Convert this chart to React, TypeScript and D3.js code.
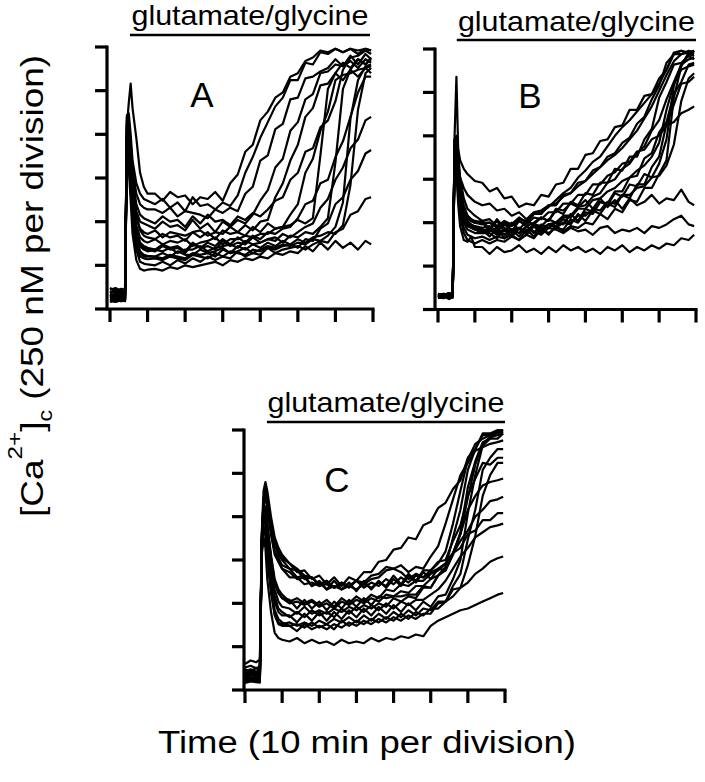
import React from 'react';
import * as d3 from 'd3';

// sample times (min) shared by every trace
const times = [0, 1.5, 3, 4, 4.5, 5, 5.5, 6, 7, 8, 9, 10, 12, 14, 16, 18, 20, 22, 24, 26, 28, 30, 32, 34, 36, 38, 40, 42, 44, 46, 48, 50, 52, 54, 56, 58, 60, 62, 64, 66, 68, 69.5];

const xTicks = [0, 10, 20, 30, 40, 50, 60, 70];
const yTicks = [0, 250, 500, 750, 1000, 1250, 1500];

// glutamate/glycine application (min)
const stimA = [5.3, 69.2];
const stimB = [5.1, 70];
const stimC = [5.9, 70];

// [Ca2+]c traces in nM, one row per cell
const tracesA: number[][] = [
  [70, 85, 65, 80, 1050, 1180, 1290, 1150, 980, 780, 700, 660, 660, 620, 670, 640, 650, 600, 640, 630, 670, 620, 720, 770, 900, 940, 1080, 1130, 1210, 1240, 1330, 1350, 1420, 1440, 1480, 1470, 1490, 1470, 1490, 1480, 1490, 1480],
  [95, 110, 90, 100, 1080, 1120, 1000, 850, 720, 660, 630, 620, 600, 630, 580, 610, 560, 640, 590, 600, 570, 610, 590, 650, 780, 870, 980, 1070, 1160, 1210, 1310, 1310, 1410, 1400, 1470, 1460, 1490, 1470, 1490, 1460, 1490, 1480],
  [50, 60, 45, 55, 1100, 1060, 950, 800, 660, 600, 580, 570, 570, 550, 580, 530, 560, 550, 540, 520, 570, 550, 580, 560, 660, 700, 850, 880, 1030, 1060, 1200, 1210, 1320, 1330, 1360, 1380, 1430, 1390, 1450, 1400, 1460, 1430],
  [80, 70, 90, 75, 1060, 1000, 880, 730, 560, 500, 490, 480, 460, 500, 470, 480, 450, 510, 460, 490, 440, 500, 470, 510, 490, 540, 620, 680, 810, 860, 1020, 1070, 1200, 1230, 1350, 1360, 1400, 1390, 1420, 1380, 1430, 1410],
  [110, 120, 100, 115, 1000, 950, 820, 680, 520, 460, 440, 430, 450, 410, 440, 430, 420, 440, 450, 420, 440, 430, 470, 440, 480, 450, 500, 510, 640, 720, 850, 940, 1100, 1150, 1280, 1290, 1350, 1310, 1370, 1330, 1380, 1350],
  [60, 50, 65, 55, 1110, 1040, 920, 760, 600, 540, 520, 510, 490, 530, 500, 510, 470, 530, 490, 540, 500, 510, 480, 530, 510, 550, 530, 570, 620, 640, 740, 780, 900, 920, 1040, 1080, 1190, 1370, 1440, 1450, 1480, 1460],
  [40, 55, 45, 50, 1020, 940, 800, 640, 480, 410, 390, 380, 400, 370, 390, 380, 400, 360, 380, 390, 410, 370, 400, 400, 420, 410, 430, 430, 460, 470, 540, 600, 780, 860, 1020, 1130, 1310, 1340, 1350, 1370, 1380, 1390],
  [100, 90, 105, 95, 1040, 980, 850, 700, 540, 450, 420, 410, 400, 430, 410, 420, 390, 440, 410, 440, 400, 450, 430, 440, 420, 470, 440, 490, 460, 470, 480, 510, 490, 520, 880, 1260, 1350, 1410, 1380, 1430, 1400, 1430],
  [65, 80, 70, 60, 980, 900, 760, 600, 440, 360, 340, 330, 340, 330, 350, 320, 340, 340, 360, 330, 350, 360, 370, 350, 390, 370, 380, 400, 410, 380, 420, 410, 440, 430, 470, 520, 840, 1260, 1370, 1430, 1400, 1440],
  [85, 75, 95, 80, 1000, 920, 780, 620, 460, 380, 360, 350, 340, 370, 350, 360, 330, 380, 350, 380, 360, 400, 370, 410, 380, 420, 400, 440, 430, 460, 470, 520, 600, 620, 720, 740, 870, 960, 1100, 1240, 1330, 1330],
  [55, 45, 60, 50, 960, 880, 720, 560, 400, 320, 300, 300, 300, 290, 310, 300, 290, 320, 310, 320, 300, 340, 320, 330, 350, 320, 340, 360, 350, 370, 360, 380, 370, 400, 390, 420, 470, 610, 1090, 1310, 1390, 1400],
  [120, 105, 115, 110, 990, 900, 770, 610, 450, 370, 350, 340, 330, 360, 340, 350, 320, 370, 350, 360, 340, 390, 360, 380, 370, 410, 380, 400, 390, 430, 410, 440, 470, 490, 580, 630, 740, 810, 920, 970, 1080, 1100],
  [70, 60, 75, 65, 950, 860, 700, 530, 380, 300, 290, 285, 290, 280, 300, 290, 280, 310, 300, 290, 320, 300, 330, 320, 310, 340, 330, 350, 340, 360, 370, 350, 400, 390, 460, 490, 600, 640, 740, 790, 890, 910],
  [45, 40, 50, 45, 940, 840, 680, 500, 340, 270, 260, 255, 250, 270, 250, 280, 260, 290, 270, 300, 280, 300, 290, 330, 300, 320, 310, 350, 320, 340, 350, 360, 340, 370, 390, 380, 440, 460, 540, 560, 630, 640],
  [90, 100, 80, 90, 920, 800, 620, 430, 280, 230, 220, 225, 230, 220, 240, 230, 250, 240, 250, 260, 270, 250, 280, 270, 290, 280, 300, 290, 320, 310, 330, 320, 360, 330, 380, 340, 390, 350, 380, 340, 390, 370],
  [75, 85, 70, 80, 970, 890, 740, 580, 420, 330, 310, 305, 300, 320, 300, 330, 310, 310, 340, 320, 330, 350, 320, 360, 340, 370, 350, 380, 360, 390, 370, 400, 380, 410, 420, 440, 430, 480, 710, 1140, 1350, 1380],
];

const tracesB: number[][] = [
  [75, 85, 70, 80, 960, 920, 780, 660, 580, 540, 510, 500, 510, 460, 520, 470, 450, 510, 480, 500, 530, 510, 580, 570, 610, 590, 630, 580, 640, 590, 630, 580, 640, 600, 620, 660, 610, 640, 630, 690, 620, 600],
  [85, 90, 80, 85, 900, 880, 740, 620, 540, 500, 480, 470, 460, 450, 470, 430, 460, 440, 480, 450, 430, 470, 460, 440, 470, 450, 460, 430, 470, 480, 440, 460, 450, 470, 440, 480, 470, 490, 520, 540, 490, 480],
  [70, 80, 65, 75, 880, 780, 600, 480, 400, 390, 420, 360, 360, 320, 360, 330, 340, 370, 330, 350, 320, 360, 330, 370, 340, 360, 330, 350, 320, 360, 340, 370, 330, 360, 340, 370, 350, 380, 370, 410, 400, 430],
  [80, 75, 85, 70, 1000, 1340, 900, 760, 640, 580, 560, 540, 510, 520, 480, 500, 490, 520, 510, 550, 560, 590, 630, 670, 700, 760, 800, 850, 880, 940, 1000, 1050, 1090, 1140, 1190, 1240, 1300, 1380, 1480, 1490, 1470, 1490],
  [90, 80, 95, 85, 980, 1000, 920, 860, 810, 780, 760, 740, 730, 680, 700, 640, 650, 590, 610, 600, 660, 650, 720, 730, 810, 810, 890, 900, 970, 980, 1050, 1060, 1150, 1150, 1230, 1240, 1330, 1380, 1470, 1470, 1490, 1480],
  [65, 75, 60, 70, 960, 940, 840, 760, 700, 660, 640, 620, 600, 610, 570, 580, 540, 560, 520, 560, 570, 600, 610, 650, 670, 710, 740, 780, 820, 860, 890, 930, 980, 1030, 1100, 1170, 1260, 1350, 1430, 1470, 1480, 1470],
  [80, 90, 75, 85, 940, 900, 760, 640, 560, 520, 510, 500, 500, 460, 510, 450, 500, 460, 510, 490, 530, 510, 570, 550, 620, 600, 670, 660, 730, 730, 810, 800, 880, 880, 980, 1040, 1220, 1310, 1410, 1420, 1460, 1440],
  [70, 65, 80, 75, 920, 860, 720, 600, 520, 490, 480, 470, 450, 470, 440, 460, 420, 470, 440, 480, 470, 490, 500, 530, 530, 580, 580, 630, 640, 680, 700, 740, 760, 800, 830, 880, 960, 1150, 1300, 1380, 1400, 1410],
  [85, 75, 90, 80, 930, 880, 740, 620, 540, 500, 470, 460, 460, 420, 470, 410, 460, 420, 480, 440, 490, 470, 500, 490, 550, 510, 580, 560, 620, 600, 670, 650, 720, 710, 780, 760, 840, 980, 1290, 1410, 1470, 1460],
  [75, 80, 70, 78, 950, 920, 800, 680, 580, 540, 520, 510, 500, 500, 470, 490, 480, 510, 490, 530, 520, 560, 560, 610, 610, 660, 660, 720, 720, 770, 790, 840, 850, 910, 920, 980, 1000, 1060, 1080, 1130, 1150, 1170],
  [90, 85, 95, 88, 900, 860, 720, 600, 500, 460, 450, 440, 440, 440, 410, 460, 420, 470, 430, 480, 440, 490, 470, 500, 490, 550, 510, 570, 550, 610, 590, 660, 640, 720, 720, 820, 880, 1070, 1180, 1300, 1310, 1340],
  [78, 70, 82, 76, 970, 930, 790, 660, 570, 510, 490, 480, 470, 480, 450, 490, 460, 470, 450, 490, 480, 520, 500, 540, 540, 590, 600, 650, 670, 730, 750, 810, 840, 900, 940, 1030, 1090, 1210, 1310, 1410, 1440, 1450],
  [68, 78, 72, 70, 900, 840, 700, 560, 470, 430, 420, 410, 420, 400, 420, 410, 430, 400, 460, 420, 470, 430, 480, 450, 480, 470, 500, 490, 550, 520, 580, 560, 630, 620, 700, 700, 780, 860, 1220, 1400, 1480, 1490],
  [82, 88, 78, 84, 980, 950, 820, 700, 600, 540, 520, 500, 490, 500, 480, 510, 490, 530, 500, 550, 550, 600, 600, 660, 670, 730, 740, 800, 820, 880, 900, 960, 990, 1070, 1110, 1210, 1290, 1420, 1470, 1490, 1480, 1490],
  [72, 82, 76, 74, 880, 800, 660, 540, 440, 400, 390, 380, 400, 380, 400, 390, 420, 400, 430, 410, 460, 440, 470, 460, 520, 500, 560, 550, 620, 610, 680, 680, 760, 770, 870, 900, 1020, 1080, 1240, 1310, 1410, 1420],
  [88, 80, 92, 86, 920, 870, 730, 610, 520, 480, 470, 460, 440, 460, 430, 460, 440, 470, 440, 480, 450, 490, 480, 520, 500, 540, 540, 580, 570, 620, 610, 660, 660, 700, 710, 760, 770, 830, 950, 1200, 1330, 1360],
];

const tracesC: number[][] = [
  [150, 170, 160, 175, 880, 1100, 1180, 1100, 950, 850, 800, 760, 730, 680, 690, 640, 660, 610, 650, 600, 650, 630, 680, 680, 740, 750, 810, 820, 880, 870, 950, 970, 1050, 1080, 1160, 1210, 1340, 1390, 1470, 1470, 1490, 1500],
  [80, 95, 85, 90, 900, 1150, 1200, 1150, 1000, 880, 820, 780, 730, 700, 660, 650, 610, 630, 590, 620, 600, 630, 590, 620, 600, 640, 610, 650, 620, 660, 650, 690, 730, 800, 960, 1150, 1330, 1420, 1450, 1470, 1480, 1490],
  [60, 70, 55, 65, 860, 1080, 1150, 1080, 920, 800, 760, 720, 700, 650, 660, 600, 630, 580, 630, 580, 620, 570, 630, 580, 630, 590, 640, 600, 660, 620, 680, 640, 700, 690, 780, 910, 1170, 1320, 1430, 1450, 1450, 1480],
  [110, 120, 105, 115, 870, 1100, 1160, 1120, 960, 840, 780, 750, 700, 690, 640, 650, 600, 630, 590, 620, 590, 630, 620, 660, 670, 710, 700, 720, 680, 710, 700, 770, 830, 960, 1100, 1240, 1310, 1380, 1400, 1420, 1430, 1440],
  [45, 55, 50, 48, 850, 1060, 1120, 1050, 900, 780, 740, 700, 680, 640, 650, 600, 620, 580, 600, 580, 600, 580, 610, 590, 620, 600, 660, 610, 670, 630, 690, 690, 740, 750, 860, 950, 1120, 1220, 1310, 1300, 1340, 1340],
  [95, 85, 100, 90, 840, 1020, 1060, 960, 780, 640, 580, 550, 510, 530, 500, 520, 490, 520, 480, 530, 500, 540, 510, 550, 530, 580, 570, 610, 600, 630, 630, 670, 690, 730, 790, 860, 920, 1000, 1040, 1090, 1100, 1115],
  [70, 60, 75, 68, 830, 1000, 1040, 940, 760, 620, 560, 530, 520, 470, 520, 470, 510, 460, 510, 470, 520, 480, 530, 490, 540, 530, 540, 540, 550, 550, 600, 590, 660, 690, 790, 820, 900, 920, 980, 980, 1020, 1020],
  [130, 140, 125, 135, 820, 980, 1000, 880, 680, 540, 470, 450, 420, 450, 420, 460, 430, 450, 420, 470, 440, 480, 450, 490, 460, 500, 470, 510, 490, 520, 520, 550, 580, 630, 700, 770, 820, 880, 910, 940, 950, 960],
  [55, 65, 60, 58, 810, 960, 980, 860, 660, 510, 450, 430, 430, 390, 440, 400, 450, 400, 450, 410, 460, 420, 470, 430, 480, 440, 490, 450, 500, 460, 510, 480, 540, 550, 640, 750, 1020, 1240, 1410, 1450, 1490, 1490],
  [100, 110, 95, 105, 800, 940, 940, 800, 600, 460, 410, 390, 370, 380, 360, 390, 360, 380, 350, 400, 370, 400, 380, 410, 390, 420, 400, 440, 410, 450, 430, 470, 470, 510, 540, 590, 620, 670, 700, 740, 760, 770],
  [75, 85, 80, 78, 790, 920, 900, 760, 560, 430, 380, 370, 370, 340, 380, 350, 370, 350, 380, 360, 390, 370, 400, 380, 410, 390, 420, 400, 430, 410, 440, 440, 500, 510, 600, 670, 870, 1040, 1270, 1340, 1390, 1390],
  [40, 50, 45, 42, 780, 880, 820, 640, 450, 330, 300, 290, 280, 300, 270, 290, 270, 280, 260, 290, 270, 280, 270, 300, 280, 300, 290, 310, 300, 320, 310, 370, 400, 420, 440, 460, 470, 490, 510, 530, 550, 560],
  [120, 110, 125, 115, 830, 990, 1020, 900, 720, 580, 510, 480, 470, 440, 480, 440, 460, 440, 470, 450, 480, 460, 490, 470, 500, 480, 530, 510, 540, 530, 590, 590, 660, 710, 880, 1040, 1270, 1390, 1480, 1480, 1500, 1500],
  [65, 75, 70, 72, 860, 1090, 1140, 1060, 900, 800, 740, 700, 650, 650, 610, 620, 600, 610, 590, 610, 600, 630, 610, 640, 650, 690, 700, 680, 640, 670, 650, 680, 700, 730, 790, 900, 1110, 1300, 1420, 1460, 1470, 1480],
  [90, 100, 85, 95, 800, 930, 920, 780, 580, 440, 390, 380, 390, 370, 390, 370, 400, 380, 410, 390, 420, 390, 430, 400, 440, 410, 450, 420, 460, 430, 470, 460, 510, 510, 580, 590, 720, 890, 1120, 1240, 1310, 1310],
  [50, 60, 55, 52, 840, 1010, 1050, 950, 760, 620, 560, 530, 500, 510, 490, 510, 480, 500, 470, 510, 490, 520, 500, 530, 510, 550, 540, 570, 560, 600, 600, 640, 660, 710, 790, 900, 1040, 1120, 1180, 1200, 1210, 1220],
];

const FONT = '"Liberation Sans", Arial, Helvetica, sans-serif';

type Layout = {
  ax: number; x0: number; x1: number; yTop: number; yBot: number;
  barY: number; textY: number; labelX: number; labelY: number;
};

const layA: Layout = { ax: 107, x0: 110, x1: 373, yTop: 47, yBot: 309, barY: 35, textY: 25, labelX: 202, labelY: 107 };
const layB: Layout = { ax: 435, x0: 438, x1: 696, yTop: 49, yBot: 309.5, barY: 40, textY: 31, labelX: 530, labelY: 108 };
const layC: Layout = { ax: 244, x0: 245, x1: 505, yTop: 430, yBot: 690, barY: 422, textY: 412, labelX: 337, labelY: 492 };

const AXIS_W = 3.2;

function Panel({ traces, stim, label, lay }: { traces: number[][]; stim: number[]; label: string; lay: Layout }) {
  const x = d3.scaleLinear().domain([0, 70]).range([lay.x0, lay.x1]);
  const y = d3.scaleLinear().domain([0, 1500]).range([lay.yBot, lay.yTop]);

  const line = d3.line<number>()
    .x((_, i) => x(times[i]))
    .y(d => y(d));

  const mid = (x(stim[0]) + x(stim[1])) / 2;

  return (
    <g>
      {traces.map((t, i) => (
        <path key={i} d={line(t) || ''} fill="none" stroke="#000" strokeWidth={2.2} strokeLinejoin="round" />
      ))}
      {/* y axis */}
      <line x1={lay.ax} x2={lay.ax} y1={y(1500) - 1.5} y2={y(0) + 1.5} stroke="#000" strokeWidth={AXIS_W} />
      {yTicks.map(v => (
        <line key={'y' + v} x1={lay.ax - 12} x2={lay.ax} y1={y(v)} y2={y(v)} stroke="#000" strokeWidth={AXIS_W} />
      ))}
      {/* x axis */}
      <line x1={lay.ax} x2={x(70) + 1.5} y1={y(0)} y2={y(0)} stroke="#000" strokeWidth={AXIS_W} />
      {xTicks.map(v => (
        <line key={'x' + v} x1={x(v)} x2={x(v)} y1={y(0)} y2={y(0) + 13} stroke="#000" strokeWidth={AXIS_W} />
      ))}
      <line x1={x(stim[0])} x2={x(stim[1])} y1={lay.barY} y2={lay.barY} stroke="#000" strokeWidth={2.6} />
      <text x={mid} y={lay.textY} textAnchor="middle" fontSize={28} fontFamily={FONT}
        textLength={237} lengthAdjust="spacingAndGlyphs">glutamate/glycine</text>
      <text x={lay.labelX} y={lay.labelY} textAnchor="middle" fontSize={35} fontFamily={FONT}>{label}</text>
    </g>
  );
}

export default function App() {
  return (
    <div style={{ position: 'absolute', left: 0, top: 0 }}>
      <svg width={705} height={782} viewBox="0 0 705 782" style={{ display: 'block', background: '#fff' }}>
        <Panel traces={tracesA} stim={stimA} label="A" lay={layA} />
        <Panel traces={tracesB} stim={stimB} label="B" lay={layB} />
        <Panel traces={tracesC} stim={stimC} label="C" lay={layC} />
        <text transform="translate(43,286) rotate(-90)" textAnchor="middle" fontSize={32} fontFamily={FONT}
          textLength={462} lengthAdjust="spacingAndGlyphs">
          [Ca<tspan dy={-21} fontSize={21}>2+</tspan><tspan dy={21}>]</tspan><tspan dy={9} fontSize={20}>c</tspan><tspan dy={-9}> (250 nM per division)</tspan>
        </text>
        <text x={367} y={753} textAnchor="middle" fontSize={31} fontFamily={FONT}
          textLength={418} lengthAdjust="spacingAndGlyphs">Time (10 min per division)</text>
      </svg>
    </div>
  );
}
